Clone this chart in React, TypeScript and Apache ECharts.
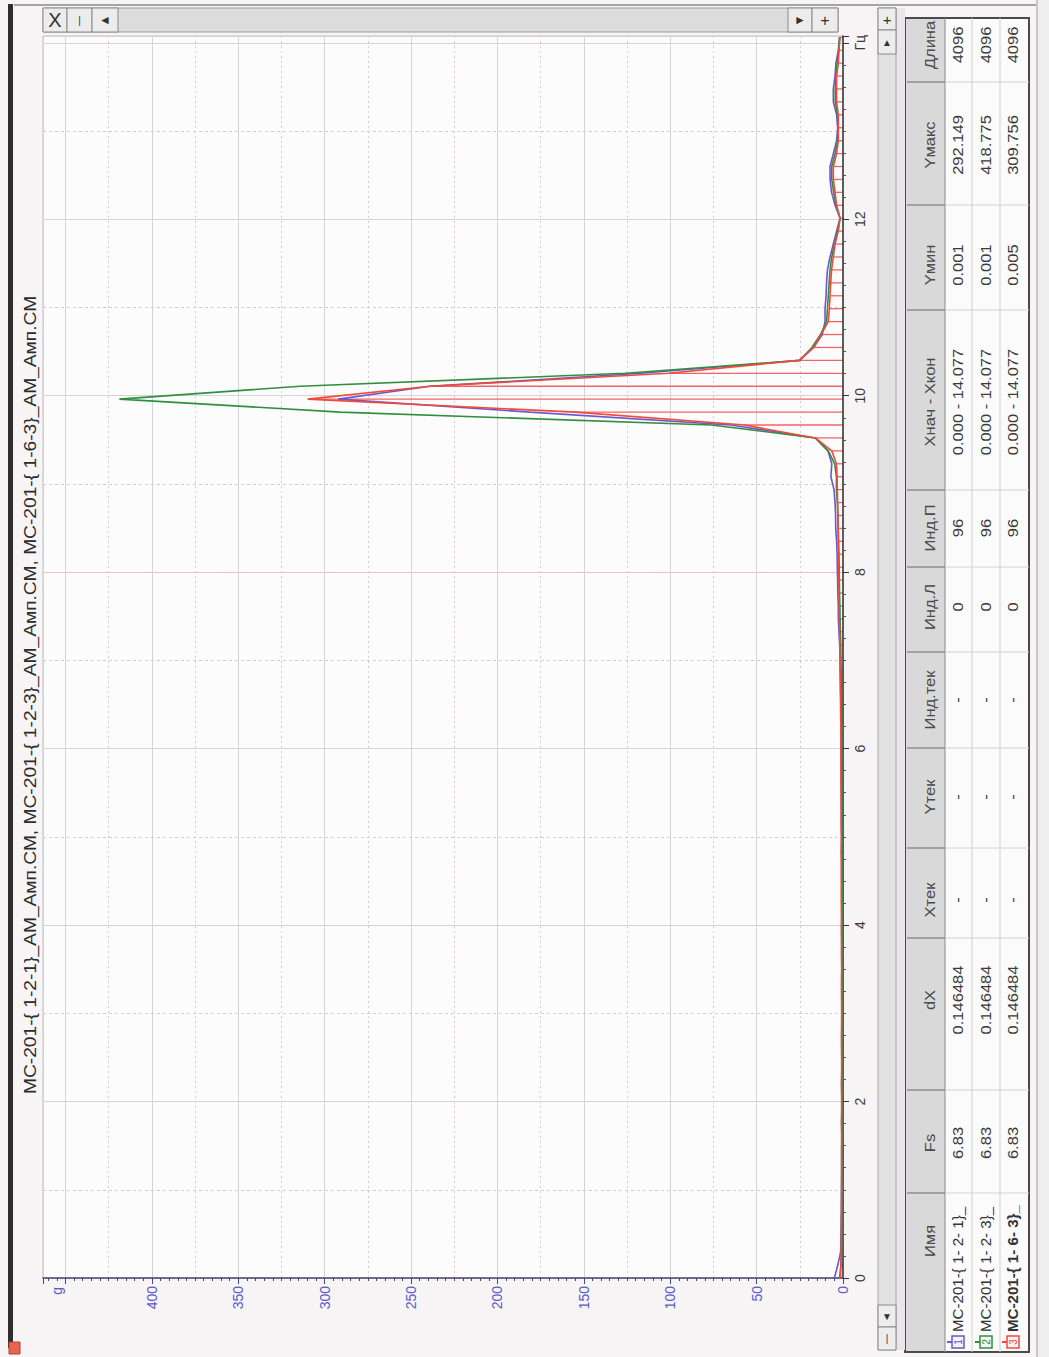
import React, { useEffect, useRef } from "react";
import * as echarts from "echarts";

const W = 1049;
const H = 1357;
const FONT = "'Liberation Sans', Arial, sans-serif";

// sampling step of the spectra (dX in the table)
const DX = 0.146484;

// amplitudes per spectral line
const BLUE = [
  5.0, 3.0, 1.4, 1.2, 1.1, 1.0, 0.9, 0.9, 0.8, 0.8, 0.8,
  0.7, 0.8, 0.7, 0.7, 0.8, 0.7, 0.6, 0.7, 0.7, 0.6,
  0.6, 0.7, 0.6, 0.6, 0.7, 0.6, 0.6, 0.7, 0.7, 0.6,
  0.7, 0.7, 0.8, 0.7, 0.8, 0.8, 0.9, 0.8, 0.9, 1.0,
  1.0, 1.0, 1.2, 1.2, 1.3, 1.4, 1.5, 1.7, 1.9, 2.3,
  2.7, 2.7, 3.0, 3.1, 3.3, 3.4, 3.7, 4.2, 4.3, 4.6,
  5.2, 7.0, 6.5, 8.7, 16, 65, 181, 292.149, 239, 117,
  25, 17, 12, 10.4, 10.4, 9.8, 9.5, 9.0, 7.5, 5.6,
  3.7, 1.7, 4.6, 6.6, 7.5, 7.5, 5.6, 3.7, 3.1, 3.7,
  5.6, 5.6, 4.6, 4.1, 2.7, 2.1,
];
const GREEN = [
  2.0, 1.2, 0.9, 0.8, 0.8, 0.7, 0.7, 0.6, 0.6, 0.6, 0.6,
  0.5, 0.6, 0.5, 0.5, 0.6, 0.5, 0.5, 0.5, 0.6, 0.5,
  0.5, 0.5, 0.5, 0.5, 0.6, 0.5, 0.5, 0.6, 0.5, 0.5,
  0.6, 0.6, 0.6, 0.6, 0.7, 0.7, 0.7, 0.7, 0.8, 0.8,
  0.8, 0.8, 0.9, 0.9, 1.0, 1.0, 1.1, 1.2, 1.3, 1.5,
  1.7, 1.8, 2.0, 2.1, 2.2, 2.4, 2.6, 2.8, 3.0, 3.3,
  3.8, 3.8, 4.8, 8.5, 16, 76, 291, 418.775, 314, 126,
  25, 18, 13, 9.5, 9.0, 8.5, 8.0, 7.5, 6.5, 5.0,
  3.2, 1.7, 4.0, 5.4, 6.5, 6.5, 4.6, 3.2, 2.9, 3.2,
  4.5, 4.5, 4.0, 3.4, 2.5, 1.9,
];
const RED = [
  1.5, 1.2, 1.0, 1.0, 0.9, 0.9, 0.9, 0.8, 0.8, 0.8, 0.8,
  0.8, 0.9, 0.8, 0.8, 0.9, 0.8, 0.8, 0.9, 0.9, 0.8,
  0.8, 0.9, 0.9, 0.8, 0.9, 0.9, 1.0, 0.9, 1.0, 1.0,
  1.0, 1.0, 1.1, 1.0, 1.1, 1.1, 1.1, 1.2, 1.2, 1.2,
  1.2, 1.2, 1.3, 1.4, 1.5, 1.6, 1.7, 1.8, 1.9, 2.0,
  2.1, 2.2, 2.3, 2.4, 2.5, 2.6, 2.7, 2.8, 2.9, 3.1,
  3.3, 3.4, 3.8, 6.5, 16, 57, 155, 309.756, 239, 101,
  25.5, 17, 12.7, 8.5, 7.9, 7.5, 7.1, 6.6, 5.6, 4.6,
  2.7, 1.7, 3.7, 4.6, 5.6, 5.6, 3.7, 2.7, 2.7, 2.7,
  3.7, 3.7, 3.7, 2.7, 2.3, 1.7,
];
const FREQ = BLUE.map((_, i) => +(i * DX).toFixed(6));

const F_MAX = 14.077;
const A_MAX = 463;

const TITLE =
  "MC-201-{ 1-2-1}_AM_Амп.СМ, MC-201-{ 1-2-3}_AM_Амп.СМ, MC-201-{ 1-6-3}_AM_Амп.СМ";

// table
const TABLE_HEAD = ["Имя", "Fs", "dX", "Xтек", "Yтек", "Инд.тек", "Инд.Л", "Инд.П", "Xнач - Xкон", "Yмин", "Yмакс", "Длина"];
const TABLE_ROWS = [
  ["MC-201-{ 1- 2- 1}_", "6.83", "0.146484", "-", "-", "-", "0", "96", "0.000 - 14.077", "0.001", "292.149", "4096"],
  ["MC-201-{ 1- 2- 3}_", "6.83", "0.146484", "-", "-", "-", "0", "96", "0.000 - 14.077", "0.001", "418.775", "4096"],
  ["MC-201-{ 1- 6- 3}_", "6.83", "0.146484", "-", "-", "-", "0", "96", "0.000 - 14.077", "0.005", "309.756", "4096"],
];
const ROW_COLORS = ["#6a58d0", "#2f8f3f", "#ee4a3c"];

// layout of the rotated table (local coordinates, u along the reading direction)
const COL_CENTER = [111, 209, 352, 452, 555, 652, 745, 824, 950, 1087, 1207, 1307];
const COL_SEP = [159, 262, 414, 504, 604, 700, 785, 862, 1042, 1147, 1270];
const ROW_CENTER = [25, 53, 81, 108];
const ROW_SEP = [40, 67, 95];

function txt(x: number, y: number, text: string, opts: any = {}) {
  const align = opts.align || "center";
  const valign = opts.valign || "middle";
  return {
    type: "text",
    x,
    y,
    rotation: opts.rotation || 0,
    scaleX: opts.scaleX || 1,
    silent: true,
    z: opts.z || 10,
    style: {
      text,
      fill: opts.color || "#333",
      fontSize: opts.size || 13,
      fontFamily: FONT,
      fontWeight: opts.weight || "normal",
      align,
      verticalAlign: valign,
      textAlign: align,
      textVerticalAlign: valign,
    },
  };
}

function buildGraphic() {
  const els: any[] = [];
  const R = Math.PI / 2;
  // window frame
  els.push({ type: "rect", shape: { x: 8, y: 4, width: 5, height: 1344 }, style: { fill: "#2e2e2e" }, z: 5 });
  els.push({ type: "line", shape: { x1: 14, y1: 5, x2: 1036, y2: 5 }, style: { stroke: "#8a8a8a", lineWidth: 1.5 }, z: 5 });
  els.push({ type: "rect", shape: { x: 9, y: 1342, width: 11, height: 12 }, style: { fill: "#e8644e", stroke: "#b04030" }, z: 5 });
  // title
  els.push(txt(31, 695, TITLE, { rotation: R, size: 16, color: "#2b2b2b", scaleX: 1.2 }));
  // "g" unit label
  els.push(txt(57, 1287, "g", { rotation: R, size: 14, color: "#5a5acb", align: "right" }));

  // top scrollbar strip
  els.push({ type: "rect", shape: { x: 43, y: 8, width: 795, height: 24 }, style: { fill: "#dcdcdc", stroke: "#9a9a9a" }, z: 5 });
  const topBtns: [number, number, string, number][] = [
    [43, 67, "X", 20],
    [67, 92, "|", 10],
    [92, 118, "◄", 12],
    [788, 812, "►", 12],
    [812, 838, "+", 16],
  ];
  topBtns.forEach(([a, b, s, sz]) => {
    els.push({ type: "rect", shape: { x: a, y: 8, width: b - a, height: 24 }, style: { fill: "#ececec", stroke: "#8a8a8a" }, z: 6 });
    els.push(txt((a + b) / 2, 20, s, { size: sz, color: "#333", z: 7 }));
  });

  // right scrollbar strip
  els.push({ type: "rect", shape: { x: 878, y: 8, width: 18, height: 1342 }, style: { fill: "#e2e2e2", stroke: "#a8a8a8" }, z: 5 });
  const sideBtns: [number, number, string, number][] = [
    [8, 30, "+", 15],
    [30, 54, "▲", 10],
    [1305, 1327, "▼", 10],
    [1327, 1350, "|", 10],
  ];
  sideBtns.forEach(([a, b, s, sz]) => {
    els.push({ type: "rect", shape: { x: 878, y: a, width: 18, height: b - a }, style: { fill: "#ededed", stroke: "#8a8a8a" }, z: 6 });
    els.push(txt(887, (a + b) / 2, s, { size: sz, color: "#333", z: 7 }));
  });
  els.push({ type: "rect", shape: { x: 896, y: 8, width: 9, height: 1342 }, style: { fill: "#e9e6e9" }, z: 4 });
  // right page edge
  els.push({ type: "rect", shape: { x: 1036, y: 0, width: 13, height: H }, style: { fill: "#eeeeee" }, z: 4 });
  els.push({ type: "line", shape: { x1: 1037, y1: 0, x2: 1037, y2: H }, style: { stroke: "#a0a0a0", lineWidth: 1 }, z: 5 });

  // rotated table
  const tc: any[] = [];
  const TW = 1334;
  const TH = 124;
  const TS = 14;
  const TSX = 1.18;
  tc.push({ type: "rect", shape: { x: 0, y: 0, width: TW, height: TH }, style: { fill: "#fbfbfb", stroke: "#4a4a4a", lineWidth: 2 } });
  tc.push({ type: "rect", shape: { x: 1, y: 1, width: TW - 2, height: ROW_SEP[0] - 1 }, style: { fill: "#d9d9d9" } });
  ROW_SEP.forEach((v, i) => {
    tc.push({ type: "line", shape: { x1: 0, y1: v, x2: TW, y2: v }, style: { stroke: i === 0 ? "#8a8a8a" : "#cfcfcf", lineWidth: 1 } });
  });
  COL_SEP.forEach((u) => {
    tc.push({ type: "line", shape: { x1: u, y1: 2, x2: u, y2: ROW_SEP[0] }, style: { stroke: "#6a6a6a", lineWidth: 1.2 } });
    tc.push({ type: "line", shape: { x1: u, y1: ROW_SEP[0], x2: u, y2: TH }, style: { stroke: "#d2d2d2", lineWidth: 1 } });
  });
  TABLE_HEAD.forEach((h, j) => {
    tc.push(txt(COL_CENTER[j], ROW_CENTER[0], h, { size: TS, color: "#4a4a4a", scaleX: TSX }));
  });
  TABLE_ROWS.forEach((row, r) => {
    const v = ROW_CENTER[r + 1];
    tc.push({ type: "rect", shape: { x: 4, y: v - 6, width: 12, height: 12 }, style: { fill: "#f4f4f4", stroke: ROW_COLORS[r], lineWidth: 1.5 } });
    tc.push({ type: "line", shape: { x1: 10, y1: v - 11, x2: 10, y2: v - 6 }, style: { stroke: ROW_COLORS[r], lineWidth: 2 } });
    tc.push(txt(10, v, String(r + 1), { size: 10, color: ROW_COLORS[r] }));
    row.forEach((cell, j) => {
      if (j === 0) {
        tc.push(txt(20, v, cell, { size: TS, color: "#333", align: "left", weight: r === 2 ? "bold" : "normal", scaleX: 1.08 }));
      } else {
        tc.push(txt(COL_CENTER[j], v, cell, { size: TS, color: "#3a3a3a", scaleX: TSX }));
      }
    });
  });
  els.push({ type: "group", x: 905, y: 1352, rotation: R, z: 8, children: tc });
  return els;
}

function buildOption(): any {
  const pts = (arr: number[]) => arr.map((a, i) => [a, FREQ[i]]);
  const lineSeries = (name: string, arr: number[], color: string, z: number) => ({
    type: "line",
    name,
    data: pts(arr),
    symbol: "none",
    xAxisIndex: 0,
    yAxisIndex: 0,
    z,
    clip: true,
    lineStyle: { color, width: 1.6 },
  });
  return {
    animation: false,
    backgroundColor: "#f7f4f6",
    textStyle: { fontFamily: FONT },
    grid: {
      left: 43,
      top: 36,
      width: 800,
      height: 1242,
      show: true,
      backgroundColor: "#fdfcfd",
      borderColor: "#bdbdbd",
      borderWidth: 1,
    },
    xAxis: [
      {
        type: "value",
        inverse: true,
        min: 0,
        max: A_MAX,
        interval: 50,
        position: "bottom",
        z: 2,
        axisLine: { show: true, onZero: false, lineStyle: { color: "#4b4470", width: 1.5 } },
        axisTick: { show: true, length: 6, lineStyle: { color: "#4b4470" } },
        minorTick: { show: true, splitNumber: 10, length: 3, lineStyle: { color: "#4b4470" } },
        axisLabel: {
          rotate: 90,
          color: "#5a5acb",
          fontSize: 14,
          fontFamily: FONT,
          margin: 8,
          formatter: (v: number) => (v % 50 === 0 && v < 450 ? String(v) : ""),
        },
        splitLine: { show: true, lineStyle: { color: "#d4d4d4", width: 1 } },
      },
      {
        type: "value",
        inverse: true,
        min: 0,
        max: A_MAX,
        interval: 25,
        position: "top",
        z: 1,
        axisLine: { show: false },
        axisTick: { show: false },
        axisLabel: { show: false },
        splitLine: { show: true, lineStyle: { color: "#dcc9d6", type: [2, 3], width: 1 } },
      },
    ],
    yAxis: [
      {
        type: "value",
        min: 0,
        max: F_MAX,
        interval: 2,
        position: "right",
        z: 2,
        axisLine: { show: true, onZero: false, lineStyle: { color: "#333", width: 1.5 } },
        axisTick: { show: true, length: 6, lineStyle: { color: "#333" } },
        minorTick: { show: true, splitNumber: 8, length: 3, lineStyle: { color: "#555" } },
        axisLabel: {
          rotate: 90,
          color: "#3a3a3a",
          fontSize: 14,
          fontFamily: FONT,
          margin: 10,
          formatter: (v: number) => (Math.abs(v - 14) < 1e-6 ? "Гц" : v > 14 ? "" : String(v)),
        },
        splitLine: {
          show: true,
          lineStyle: {
            color: ["#d4d4d4", "#d4d4d4", "#d4d4d4", "#d4d4d4", "#e8c0cc", "#d4d4d4", "#d4d4d4", "#d4d4d4", "#d4d4d4"],
            width: 1,
          },
        },
      },
      {
        type: "value",
        min: 0,
        max: F_MAX,
        interval: 1,
        position: "left",
        z: 1,
        axisLine: { show: false },
        axisTick: { show: false },
        axisLabel: { show: false },
        splitLine: { show: true, lineStyle: { color: "#e0c4d0", type: [3, 3], width: 1 } },
      },
    ],
    graphic: { elements: buildGraphic() },
    series: [
      {
        type: "custom",
        name: "stems",
        xAxisIndex: 0,
        yAxisIndex: 0,
        z: 2,
        clip: true,
        data: pts(RED),
        encode: { x: 0, y: 1 },
        renderItem: (params: any, api: any) => {
          const a = api.value(0);
          const f = api.value(1);
          const p0 = api.coord([0, f]);
          const p1 = api.coord([a, f]);
          return {
            type: "line",
            shape: { x1: p0[0], y1: p0[1], x2: p1[0], y2: p1[1] },
            style: { stroke: "#f26464", lineWidth: 1.3 },
          };
        },
      },
      lineSeries("MC-201-{ 1-2-1}_", BLUE, "#6a58d0", 3),
      lineSeries("MC-201-{ 1-2-3}_", GREEN, "#2f8f3f", 4),
      lineSeries("MC-201-{ 1-6-3}_", RED, "#f04a3a", 5),
    ],
  };
}

export default function App() {
  const ref = useRef<HTMLDivElement>(null);
  useEffect(() => {
    if (!ref.current) return;
    const chart = echarts.init(ref.current, null, { renderer: "svg", width: W, height: H });
    chart.setOption(buildOption());
    return () => chart.dispose();
  }, []);
  return (
    <div
      ref={ref}
      style={{ position: "absolute", left: 0, top: 0, width: W, height: H, overflow: "hidden" }}
    />
  );
}
